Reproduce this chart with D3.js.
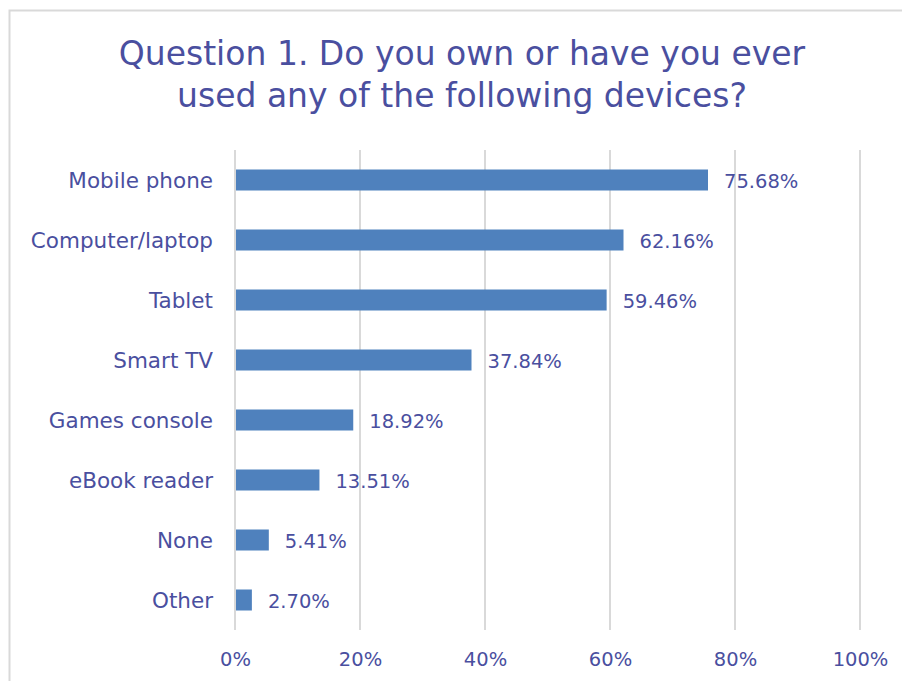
<!DOCTYPE html>
<html>
<head>
<meta charset="utf-8">
<script src="https://cdn.jsdelivr.net/npm/d3@7"></script>
<style>
  html, body { margin: 0; padding: 0; background: #fff; }
  svg { display: block; }
  text { font-family: "DejaVu Sans", sans-serif; fill: #4A4F9F; }
</style>
</head>
<body>
<svg id="chart" width="902" height="681"></svg>
<script>
// Survey answers, in display order (top to bottom)
const categories = ["Mobile phone", "Computer/laptop", "Tablet", "Smart TV",
                    "Games console", "eBook reader", "None", "Other"];
const shares = [75.68, 62.16, 59.46, 37.84, 18.92, 13.51, 5.41, 2.70];
const tickValues = [0, 20, 40, 60, 80, 100];
const titleLines = ["Question 1. Do you own or have you ever",
                    "used any of the following devices?"];

const svg = d3.select("#chart");
const W = 902, H = 681;
const margin = { left: 235, right: 42, top: 150, bottom: 51 };

// chart frame
svg.append("rect")
  .attr("x", 9.5).attr("y", 10.5)
  .attr("width", W + 20).attr("height", H + 20)
  .attr("fill", "none").attr("stroke", "#D9D9D9").attr("stroke-width", 2);

// title
svg.append("text")
  .attr("text-anchor", "middle")
  .style("font-size", "33px")
  .selectAll("tspan").data(titleLines).join("tspan")
  .attr("x", 462).attr("y", (d, i) => 65 + i * 42)
  .text(d => d);

const x = d3.scaleLinear().domain([0, 100]).range([margin.left, 860]);
const y = d3.scaleBand().domain(categories)
  .range([margin.top, H - margin.bottom]).paddingInner(0.65).paddingOuter(0.325);

// vertical gridlines
svg.append("g").selectAll("line").data(tickValues).join("line")
  .attr("x1", d => x(d)).attr("x2", d => x(d))
  .attr("y1", margin.top).attr("y2", H - margin.bottom)
  .attr("stroke", "#D9D9D9").attr("stroke-width", 2);

// x axis labels
const xAxis = d3.axisBottom(x).tickValues(tickValues)
  .tickFormat(d => d + "%").tickSize(0).tickPadding(22);
const gx = svg.append("g")
  .attr("transform", `translate(0,${H - margin.bottom})`)
  .call(xAxis);
gx.select(".domain").remove();
gx.selectAll("text").style("font-size", "19.5px").attr("fill", "#4A4F9F");

// y axis labels
const yAxis = d3.axisLeft(y).tickSize(0).tickPadding(22);
const gy = svg.append("g")
  .attr("transform", `translate(${margin.left},0)`)
  .call(yAxis);
gy.select(".domain").remove();
gy.selectAll("text").style("font-size", "21.5px").attr("fill", "#4A4F9F")
  .attr("dy", "0.36em");

// bars
const rows = categories.map((c, i) => ({ cat: c, v: shares[i] }));
svg.append("g").selectAll("rect").data(rows).join("rect")
  .attr("x", x(0) + 1)
  .attr("y", d => y(d.cat))
  .attr("width", d => x(d.v) - x(0) - 1)
  .attr("height", y.bandwidth())
  .attr("fill", "#4F81BD");

// value labels
svg.append("g").selectAll("text").data(rows).join("text")
  .attr("x", d => x(d.v) + 16)
  .attr("y", d => y(d.cat) + y.bandwidth() / 2)
  .attr("dy", "0.4em")
  .style("font-size", "19.5px")
  .text(d => d.v.toFixed(2) + "%");
</script>
</body>
</html>
